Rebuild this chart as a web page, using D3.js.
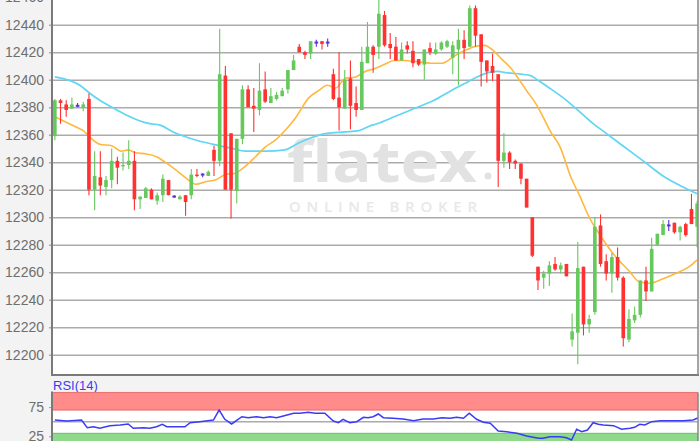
<!DOCTYPE html>
<html>
<head>
<meta charset="utf-8">
<script src="https://cdn.jsdelivr.net/npm/d3@7"></script>
<style>
  html, body { margin: 0; padding: 0; background: #f3f3f3; }
  svg { display: block; font-family: "Liberation Sans", Arial, sans-serif; }
</style>
</head>
<body>
<svg id="chart" width="700" height="441"></svg>
<script>
// candle data
const opens = [12359,12385,12382,12379,12381,12380,12386,12320,12329,12322,
  12327,12341,12337,12338,12341,12313,12314,12320,12312,12316,
  12327,12315,12313,12316,12316,12331,12331,12330,12349,12341,
  12403,12361,12319,12357,12393,12381,12378,12393,12383,12386,
  12388,12393,12407,12424,12420,12419,12427,12428,12427,12404,
  12387,12379,12401,12383,12378,12412,12424,12424,12447,12426,
  12424,12414,12425,12421,12415,12411,12423,12419,12422,12424,
  12416,12422,12429,12424,12452,12433,12414,12410,12404,12341,
  12347,12341,12339,12328,12300,12264,12256,12259,12266,12262,
  12266,12211,12216,12264,12222,12231,12294,12268,12259,12271,
  12256,12211,12225,12229,12254,12246,12280,12287,12294,12296,
  12289,12295,12306,12293];
const highs = [12386,12386,12385,12387,12383,12384,12390,12348,12348,12330,
  12350,12344,12347,12356,12348,12315,12322,12321,12318,12331,
  12327,12316,12316,12316,12335,12335,12332,12334,12352,12437,
  12410,12361,12357,12396,12396,12394,12412,12406,12394,12391,
  12394,12407,12418,12426,12421,12428,12429,12428,12430,12408,
  12420,12407,12414,12395,12424,12442,12425,12458,12450,12434,
  12431,12427,12428,12428,12415,12422,12427,12427,12428,12429,
  12428,12437,12436,12454,12454,12433,12414,12419,12404,12361,
  12348,12342,12339,12328,12300,12264,12261,12268,12271,12267,
  12266,12230,12282,12264,12229,12300,12302,12273,12274,12278,
  12257,12233,12235,12254,12264,12285,12288,12298,12298,12296,
  12294,12296,12317,12312];
const lows = [12356,12368,12373,12379,12380,12377,12316,12305,12316,12316,
  12321,12324,12334,12335,12305,12306,12314,12313,12309,12311,
  12316,12314,12313,12301,12313,12329,12329,12330,12330,12337,
  12320,12299,12310,12353,12380,12362,12374,12383,12383,12385,
  12388,12390,12407,12420,12415,12415,12424,12422,12424,12385,
  12363,12379,12364,12373,12378,12412,12405,12415,12424,12415,
  12414,12414,12419,12409,12410,12400,12418,12418,12421,12423,
  12404,12396,12415,12424,12424,12395,12398,12399,12322,12336,
  12335,12335,12324,12307,12271,12247,12248,12250,12261,12259,
  12257,12206,12193,12214,12216,12229,12264,12254,12245,12254,
  12206,12209,12223,12227,12239,12246,12279,12287,12290,12288,
  12283,12286,12295,12278];
const closes = [12385,12383,12378,12382,12381,12382,12320,12330,12323,12327,
  12341,12336,12338,12341,12313,12315,12321,12313,12316,12328,
  12316,12315,12315,12311,12331,12330,12331,12333,12341,12404,
  12320,12320,12357,12393,12380,12379,12392,12384,12388,12389,
  12392,12407,12414,12420,12418,12428,12427,12426,12427,12386,
  12380,12400,12381,12378,12413,12424,12418,12448,12425,12423,
  12414,12422,12422,12412,12411,12422,12420,12422,12427,12428,
  12425,12429,12423,12452,12432,12413,12406,12405,12341,12347,
  12340,12339,12328,12307,12272,12254,12259,12265,12262,12265,
  12257,12217,12263,12222,12226,12293,12266,12259,12271,12256,
  12212,12226,12229,12254,12246,12277,12288,12295,12294,12289,
  12293,12287,12295,12310];

// moving averages (candle position, value)
const fastIdx = [0,2,4,5,6.2,7.9,10,11.7,12.9,14.1,16.1,17.9,19.4,21.4,23.2,24.8,26.7,28.2,30,31.7,
  33.5,35.3,37,38.8,40.5,42.3,44.7,46.4,47.9,49.4,51.1,52.9,54.6,56.2,57.9,59.7,61.4,63.8,66.1,68.2,
  70.2,72,73.8,75.6,77.2,78.6,80.1,81.5,83,84.7,86,87.1,88.9,90.7,92.4,94,96.4,98.7,101,102.8,
  104.5,106.9,109.2,111.6,113];
const fastVal = [12373,12369,12365,12363,12358,12353,12352,12348,12349,12347,12346,12344,12340,12334,12328,12324,12326,12327,12331,12332,
  12337,12344,12351,12356,12363,12372,12387,12392,12396,12394,12401,12402,12406,12408,12411,12414,12414,12413,12412,12412,
  12417,12421,12424,12425,12421,12415,12409,12401,12392,12382,12372,12363,12351,12330,12315,12300,12284,12271,12261,12253,
  12252,12255,12259,12264,12269];
const slowIdx = [0,2.1,4.4,6.2,7.9,10.9,13.2,15,16.7,18.5,20.8,22.6,24.9,27.9,31.2,33.5,37,40.5,42.9,45.2,
  47.9,51.1,53.5,55.2,56.7,59.7,63.2,66.7,69.7,72,74.3,76.1,77.9,79.6,82,83.7,85.2,87,90,91.7,
  94.7,97,99.9,103.5,107,110.5,113];
const slowVal = [12402,12400,12396,12390,12385,12378,12373,12370,12368,12367,12362,12359,12356,12353,12350,12348,12348,12349,12354,12358,
  12361,12362,12363,12366,12368,12373,12379,12385,12392,12397,12402,12405,12406,12405,12404,12403,12399,12394,12385,12379,
  12368,12361,12352,12341,12330,12322,12317];

// RSI(14)
const rsiIdx = [0,2.1,4.7,5.7,6.8,7.9,9.7,11.5,12.9,13.8,15.6,16.7,17.9,18.9,19.7,22.9,23.8,25.5,27.9,28.9,
  29.9,31.1,32.9,34,35.5,36.7,37.9,39,40.2,42,43.1,44.6,45.8,47.5,49,49.9,50.7,51.9,53.1,54.3,
  55.1,56,56.9,57.8,59.5,61.3,63.1,64.8,66.6,68.1,69.5,70.7,71.9,72.9,74.2,75.4,76.6,78,79.5,81.3,
  83,85.1,85.9,87.1,88.9,90,90.9,91.8,92.7,93.7,94.7,95.6,96.5,98.3,99.7,101.2,102,102.9,103.8,105,
  106.5,108.2,110.6,112.3,113.2];
const rsiVal = [52.9,51.2,52.9,39.7,41.4,38.7,43.2,44.3,46.1,38.7,39.7,38.7,41.4,45.5,41.4,41.4,48.3,50,52.9,70,
  54.1,46.1,58.6,56.8,58.6,56.8,58.6,56.8,59.8,64.4,64.4,66.1,64.4,64.4,51.2,48.3,54.1,48.3,50,57.5,
  56.8,58.6,63.2,56.8,55.8,54.6,51.7,54.6,54.6,56.8,55.8,57.5,55.8,64.4,54.1,49,47.3,34.1,32.9,30.1,
  25.5,21.6,21.6,24.3,24.3,22.6,18.7,37,32.9,35.8,48.3,45.5,44.3,43.2,37,38.7,40.4,45.5,44.3,50,
  51.7,51.7,51.7,52.9,56.8];

const priceTicks = [12200,12220,12240,12260,12280,12300,12320,12340,12360,12380,12400,12420,12440,12460];
const rsiTicks = [25, 75];

const n = closes.length;
const left = 52, right = 698, plotBottom = 375, rsiTop = 392.5, H = 441;
const green = "#66c95c", red = "#ff3131", doji = "#5b33dd";

const svg = d3.select("#chart");

const x = d3.scaleBand().domain(d3.range(n)).range([52, 700]).paddingInner(0.36).paddingOuter(0.18);
const xi = d3.scaleLinear().domain([-0.5, n - 0.5]).range([52, 700]);
const y = d3.scaleLinear().domain([12200, 12440]).range([354.7, 24.7]);
const yr = d3.scaleLinear().domain([0, 100]).range([450.9, 392.5]);

svg.append("defs").append("clipPath").attr("id", "clipMain")
  .append("rect").attr("x", left).attr("y", 0).attr("width", right - left).attr("height", plotBottom);
svg.select("defs").append("clipPath").attr("id", "clipRsi")
  .append("rect").attr("x", left).attr("y", rsiTop - 1).attr("width", right - left).attr("height", H - rsiTop + 1);

svg.append("rect").attr("width", 700).attr("height", 441).attr("fill", "#f3f3f3");
svg.append("rect").attr("x", left).attr("y", 0).attr("width", right - left).attr("height", plotBottom).attr("fill", "#fff");

// price grid + labels
const yAxis = svg.append("g")
  .attr("transform", "translate(49,0)")
  .call(d3.axisLeft(y).tickValues(priceTicks).tickSize(-(right - 49)).tickPadding(5).tickFormat(d3.format("d")));
yAxis.select(".domain").remove();
yAxis.selectAll("line").attr("stroke", "#ababab").attr("stroke-width", 1.6);
yAxis.selectAll("text").attr("fill", "#6e6e6e").attr("font-size", 14);

// watermark
const wm = svg.append("g");
wm.append("text").attr("x", 287).attr("y", 182)
  .attr("textLength", 190).attr("lengthAdjust", "spacingAndGlyphs")
  .attr("font-family", "'Open Sans', sans-serif").attr("font-weight", 700).attr("font-size", 58)
  .attr("fill", "#e2e2e2").text("flatex");
wm.append("circle").attr("cx", 488).attr("cy", 176).attr("r", 3.5).attr("fill", "#e2e2e2");
wm.append("text").attr("x", 289).attr("y", 212)
  .attr("textLength", 188).attr("lengthAdjust", "spacing")
  .attr("font-family", "'Open Sans', sans-serif").attr("font-weight", 600).attr("font-size", 15)
  .attr("fill", "#e8e8e8").text("ONLINE BROKER");

const main = svg.append("g").attr("clip-path", "url(#clipMain)");

// moving averages
const maLine = d3.line().x(d => xi(d[0])).y(d => y(d[1])).curve(d3.curveMonotoneX);
main.append("path").datum(d3.zip(slowIdx, slowVal))
  .attr("d", maLine).attr("fill", "none").attr("stroke", "#5fd6f4").attr("stroke-width", 1.7);
main.append("path").datum(d3.zip(fastIdx, fastVal))
  .attr("d", maLine).attr("fill", "none").attr("stroke", "#ffb83d").attr("stroke-width", 1.6);

// candles
const candles = d3.range(n).map(i => ({ i, o: opens[i], h: highs[i], l: lows[i], c: closes[i] }));
const col = d => d.c > d.o ? green : d.c < d.o ? red : doji;
const cg = main.selectAll(".candle").data(candles).join("g").attr("class", "candle");
cg.append("line")
  .attr("x1", d => x(d.i) + x.bandwidth() / 2).attr("x2", d => x(d.i) + x.bandwidth() / 2)
  .attr("y1", d => y(d.h)).attr("y2", d => y(d.l))
  .attr("stroke", col).attr("stroke-width", 1.1);
cg.append("rect")
  .attr("x", d => x(d.i)).attr("width", x.bandwidth())
  .attr("y", d => d.c === d.o ? y(d.o) - 1 : y(Math.max(d.o, d.c)))
  .attr("height", d => d.c === d.o ? 2 : Math.max(1, Math.abs(y(d.o) - y(d.c))))
  .attr("fill", col);

// frame of the price panel
svg.append("line").attr("x1", left).attr("x2", left).attr("y1", 0).attr("y2", plotBottom + 1)
  .attr("stroke", "#7a7a7a").attr("stroke-width", 2);
svg.append("line").attr("x1", left).attr("x2", right + 1).attr("y1", plotBottom).attr("y2", plotBottom)
  .attr("stroke", "#7a7a7a").attr("stroke-width", 2);
svg.append("line").attr("x1", right).attr("x2", right).attr("y1", 0).attr("y2", plotBottom)
  .attr("stroke", "#8a8a8a").attr("stroke-width", 1.5);

// RSI panel
svg.append("text").attr("x", 53).attr("y", 390).attr("font-size", 13).attr("fill", "#3a3cf2").text("RSI(14)");
svg.append("rect").attr("x", left).attr("y", rsiTop).attr("width", right - left).attr("height", H - rsiTop).attr("fill", "#fff");
const rp = svg.append("g").attr("clip-path", "url(#clipRsi)");
rp.append("rect").attr("x", left).attr("width", right - left)
  .attr("y", yr(100)).attr("height", yr(70) - yr(100))
  .attr("fill", "#ff8b8b").attr("stroke", "#e87474").attr("stroke-width", 1.2);
rp.append("rect").attr("x", left).attr("width", right - left)
  .attr("y", yr(30)).attr("height", yr(0) - yr(30))
  .attr("fill", "#8fd98c").attr("stroke", "#74c771").attr("stroke-width", 1.2);
rp.append("line").attr("x1", left).attr("x2", right).attr("y1", yr(50)).attr("y2", yr(50))
  .attr("stroke", "#aaa").attr("stroke-width", 1.5);
rp.append("path").datum(d3.zip(rsiIdx, rsiVal))
  .attr("d", d3.line().x(d => xi(d[0])).y(d => yr(d[1])))
  .attr("fill", "none").attr("stroke", "#3a3cf5").attr("stroke-width", 1.5);

const rAxis = svg.append("g").attr("transform", "translate(52,0)")
  .call(d3.axisLeft(yr).tickValues(rsiTicks).tickSize(3).tickPadding(5));
rAxis.select(".domain").remove();
rAxis.selectAll("line").attr("stroke", "#999");
rAxis.selectAll("text").attr("fill", "#6e6e6e").attr("font-size", 14).attr("font-family", "'Liberation Sans', Arial, sans-serif");

svg.append("line").attr("x1", left).attr("x2", left).attr("y1", rsiTop - 1).attr("y2", H)
  .attr("stroke", "#7a7a7a").attr("stroke-width", 2);
svg.append("line").attr("x1", right).attr("x2", right).attr("y1", rsiTop).attr("y2", H)
  .attr("stroke", "#8a8a8a").attr("stroke-width", 1.5);
</script>
</body>
</html>
